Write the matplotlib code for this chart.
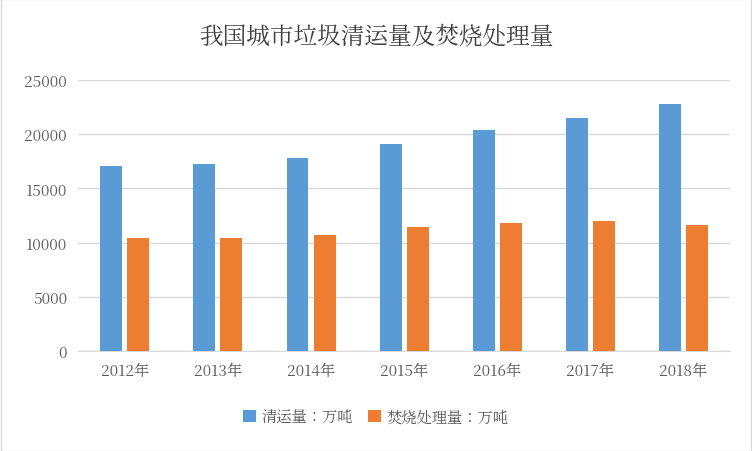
import matplotlib
matplotlib.use("Agg")
import matplotlib.pyplot as plt
from matplotlib import font_manager
import numpy as np

cjk = [f.name for f in font_manager.fontManager.ttflist if "CJK" in f.name]
pref = [n for n in cjk if "SC" in n] or cjk
plt.rcParams["font.family"] = (pref[:1] if pref else []) + ["DejaVu Sans"]
plt.rcParams["font.sans-serif"] = (pref[:1] if pref else []) + ["DejaVu Sans"]

categories = ["2012年", "2013年", "2014年", "2015年", "2016年", "2017年", "2018年"]
cleared = [17100, 17250, 17800, 19100, 20400, 21500, 22800]
burned = [10400, 10400, 10700, 11450, 11800, 12000, 11600]

fig = plt.figure(figsize=(7.52, 4.52), dpi=100)
fig.patches.append(plt.Rectangle((0.001, 0.001), 0.998, 0.998, transform=fig.transFigure,
                                 fill=False, edgecolor="#d9d9d9", linewidth=1))
ax = fig.add_axes([0.104, 0.221, 0.867, 0.600])
x = np.arange(len(categories))
w = 0.235
ax.bar(x - 0.145, cleared, w, color="#5b9bd5", label="清运量：万吨", zorder=3)
ax.bar(x + 0.145, burned, w, color="#ed7d31", label="焚烧处理量：万吨", zorder=3)
ax.set_ylim(0, 25000)
ax.set_yticks(range(0, 25001, 5000))
ax.set_xlim(-0.5, len(categories) - 0.5)
ax.set_xticks(x)
ax.set_xticklabels(categories)
ax.yaxis.grid(True, color="#d9d9d9", linewidth=1, zorder=0)
for s in ["top", "right", "left"]:
    ax.spines[s].set_visible(False)
ax.spines["bottom"].set_color("#d9d9d9")
ax.tick_params(axis="both", length=0, labelsize=11, colors="#595959", pad=8)
fig.text(0.5, 0.92, "我国城市垃圾清运量及焚烧处理量", ha="center", va="center",
         fontsize=17, color="#404040")
fig.legend(loc="center", bbox_to_anchor=(0.5, 0.075), ncol=2, frameon=False,
           fontsize=11, handlelength=0.8, handleheight=0.8, columnspacing=1,
           handletextpad=0.4, labelcolor="#595959")
fig.savefig("out.png", dpi=100)
